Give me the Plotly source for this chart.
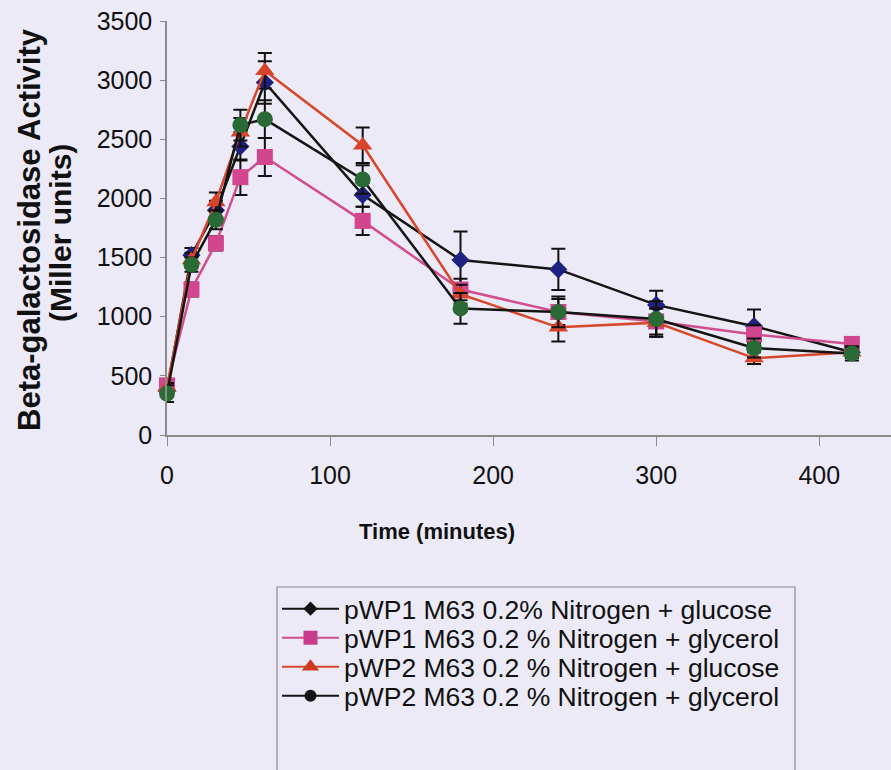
import plotly.graph_objects as go

time_min = [0, 15, 30, 45, 60, 120, 180, 240, 300, 360, 420]

names = [
    "pWP1 M63 0.2% Nitrogen + glucose",
    "pWP1 M63 0.2 % Nitrogen + glycerol",
    "pWP2 M63 0.2 % Nitrogen + glucose",
    "pWP2 M63 0.2 % Nitrogen + glycerol",
]

pwp1_glucose = [380, 1520, 1900, 2440, 2980, 2030, 1480, 1400, 1100, 920, 700]
pwp1_glucose_err = [40, 60, 80, 120, 180, 100, 240, 175, 120, 140, 50]

pwp1_glycerol = [420, 1230, 1620, 2180, 2350, 1810, 1230, 1040, 960, 850, 770]
pwp1_glycerol_err = [50, 60, 60, 150, 160, 120, 90, 110, 110, 80, 40]

pwp2_glucose = [400, 1480, 1970, 2560, 3080, 2450, 1190, 910, 950, 650, 700]
pwp2_glucose_err = [40, 60, 80, 120, 150, 150, 80, 120, 120, 50, 40]

pwp2_glycerol = [350, 1440, 1820, 2620, 2670, 2160, 1070, 1040, 980, 735, 690]
pwp2_glycerol_err = [70, 60, 80, 130, 160, 120, 130, 130, 150, 80, 60]

series = [pwp1_glucose, pwp1_glycerol, pwp2_glucose, pwp2_glycerol]
errors = [pwp1_glucose_err, pwp1_glycerol_err, pwp2_glucose_err, pwp2_glycerol_err]

line_colors = ["#141414", "#D14E8E", "#D8472A", "#141414"]
marker_colors = ["#1E2180", "#D2468F", "#D8442A", "#2A6A36"]
legend_marker_colors = ["#141414", "#C93A8B", "#CF3A1F", "#141414"]
symbols = ["diamond", "square", "triangle-up", "circle"]
sizes = [14, 16, 17, 16]
legend_sizes = [11, 14, 15, 12]

BG = "#EBEAF6"
FONT = "Liberation Sans, Arial, sans-serif"

fig = go.Figure()

for i in range(4):
    fig.add_trace(go.Scatter(
        x=time_min, y=series[i], mode="lines+markers",
        line=dict(color=line_colors[i], width=2.5),
        marker=dict(symbol=symbols[i], size=sizes[i], color=marker_colors[i],
                    line=dict(width=0)),
        error_y=dict(type="data", array=errors[i], visible=True,
                     color="#111111", thickness=2, width=7),
        showlegend=False, name=names[i], cliponaxis=False,
    ))

# legend-only entries (one legend per row so rows can be spaced like the original)
legend_ids = ["legend", "legend2", "legend3", "legend4"]
for i in range(4):
    fig.add_trace(go.Scatter(
        x=[None], y=[None], mode="lines+markers", name=names[i],
        line=dict(color=line_colors[i] if i in (1, 2) else "#141414", width=2),
        marker=dict(symbol=symbols[i], size=legend_sizes[i], color=legend_marker_colors[i]),
        legend=legend_ids[i], showlegend=True,
    ))

row_px = [609, 638, 667, 696]
legend_common = dict(
    x=(277 - 167) / 724, xanchor="left", yanchor="middle",
    bgcolor="rgba(0,0,0,0)", borderwidth=0,
    font=dict(family=FONT, size=26.5, color="#111111"),
    itemwidth=57,
)
legend_layout = {}
for i, lid in enumerate(legend_ids):
    d = dict(legend_common)
    d["y"] = (435 - row_px[i]) / 414
    legend_layout[lid] = d

fig.update_layout(
    width=891, height=770,
    margin=dict(l=167, r=0, t=21, b=335),
    paper_bgcolor=BG, plot_bgcolor=BG,
    font=dict(family=FONT, color="#111111"),
    xaxis=dict(
        range=[0, 444], tickvals=[0, 100, 200, 300, 400],
        showgrid=False, zeroline=False,
        showline=True, linecolor="#8A8A8A", linewidth=1.5,
        ticks="outside", ticklen=9, tickcolor="#8A8A8A", tickwidth=1,
        tickfont=dict(family=FONT, size=25, color="#111111"),
        ticklabelstandoff=8,
    ),
    yaxis=dict(
        range=[0, 3500], tickvals=[0, 500, 1000, 1500, 2000, 2500, 3000, 3500],
        showgrid=False, zeroline=False,
        showline=True, linecolor="#8A8A8A", linewidth=1.5,
        ticks="outside", ticklen=5, tickcolor="#8A8A8A", tickwidth=1,
        tickfont=dict(family=FONT, size=25, color="#111111"),
        ticklabelstandoff=3,
    ),
    shapes=[dict(type="rect", xref="paper", yref="paper",
                 x0=(277 - 167) / 724, x1=(795 - 167) / 724,
                 y0=(435 - 800) / 414, y1=(435 - 587) / 414,
                 line=dict(color="#8A8A8A", width=1.2), fillcolor="rgba(0,0,0,0)")],
    annotations=[
        dict(text="<b>Time (minutes)</b>", xref="paper", yref="paper",
             x=(437 - 167) / 724, y=(435 - 531) / 414, xanchor="center", yanchor="middle",
             showarrow=False, font=dict(family=FONT, size=22, color="#111111")),
        dict(text="<b>Beta-galactosidase Activity</b>", xref="paper", yref="paper",
             x=(29 - 167) / 724, y=(435 - 230) / 414, xanchor="center", yanchor="middle",
             textangle=-90, showarrow=False, font=dict(family=FONT, size=31, color="#111111")),
        dict(text="<b>(Miller units)</b>", xref="paper", yref="paper",
             x=(60 - 167) / 724, y=(435 - 233) / 414, xanchor="center", yanchor="middle",
             textangle=-90, showarrow=False, font=dict(family=FONT, size=30, color="#111111")),
    ],
    **legend_layout,
)

fig.write_html("out.html")
